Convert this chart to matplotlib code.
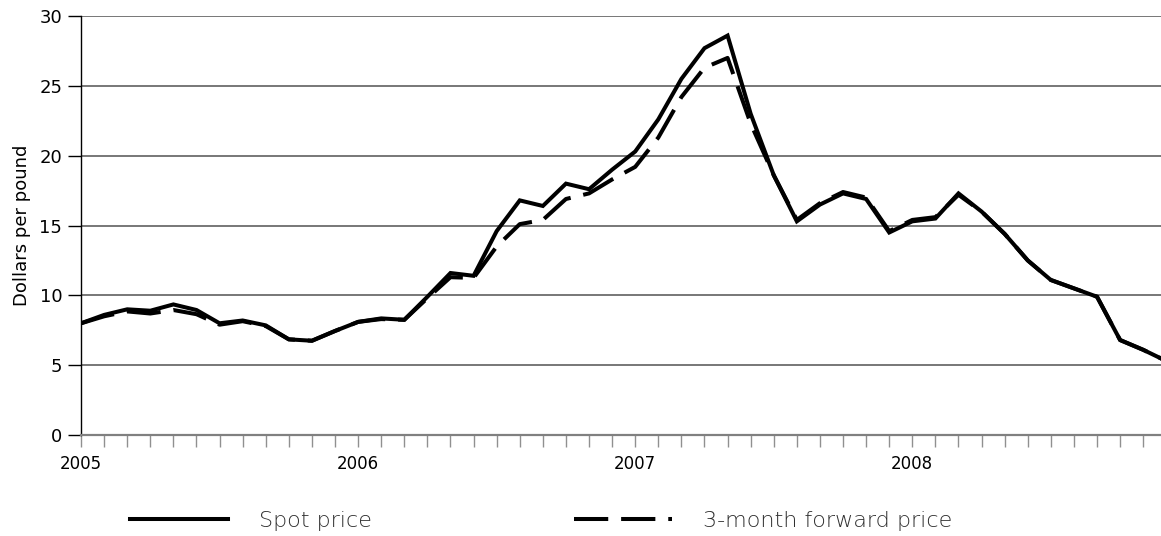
import matplotlib
matplotlib.use("Agg")
import matplotlib.pyplot as plt

# monthly prices, Jan 2005 .. Dec 2008
spot = [8.0, 8.6, 9.0, 8.9, 9.35, 8.95, 8.0, 8.2, 7.85, 6.85, 6.75, 7.45,
        8.1, 8.35, 8.25, 9.9, 11.6, 11.4, 14.6, 16.8, 16.4, 18.0, 17.6, 19.0,
        20.3, 22.6, 25.5, 27.7, 28.6, 23.0, 18.6, 15.3, 16.5, 17.3, 16.9, 14.5,
        15.3, 15.5, 17.3, 16.0, 14.4, 12.5, 11.1, 10.5, 9.9, 6.8, 6.1, 5.3]
forward = [8.0, 8.5, 8.85, 8.7, 8.95, 8.65, 7.9, 8.15, 7.8, 6.85, 6.75, 7.45,
           8.1, 8.3, 8.25, 9.8, 11.3, 11.25, 13.5, 15.1, 15.4, 16.9, 17.3, 18.3,
           19.2, 21.3, 24.2, 26.3, 27.0, 22.3, 18.6, 15.4, 16.6, 17.4, 17.0, 14.6,
           15.4, 15.6, 17.2, 16.0, 14.4, 12.5, 11.1, 10.5, 9.9, 6.8, 6.1, 5.3]
years = ["2005", "2006", "2007", "2008"]

months = list(range(len(spot)))

fig = plt.figure(figsize=(11.61, 5.36), dpi=100)
ax = fig.add_axes([0.0698, 0.1884, 0.9302, 0.7817])

# gridlines
for v in range(5, 31, 5):
    ax.axhline(v, color="#606060", lw=1.2, zorder=1)

ax.plot(months, spot, color="black", lw=2.9, solid_joinstyle="miter",
        label="Spot price", zorder=3)
ax.plot(months, forward, color="black", lw=2.9, dashes=(8.5, 3.2),
        label="3-month forward price", zorder=2)

ax.set_xlim(0, 46.77)
ax.set_ylim(0, 30)

ax.set_yticks(range(0, 31, 5))
ax.tick_params(axis="y", direction="out", length=9.5, width=1, color="black",
               labelsize=13, pad=4)
ax.set_xticks(range(0, 47))
ax.set_xticklabels([years[i // 12] if i % 12 == 0 else "" for i in range(0, 47)])
ax.tick_params(axis="x", direction="out", length=8.5, width=1, color="#909090",
               labelsize=12, pad=6)

ax.spines["top"].set_visible(False)
ax.spines["right"].set_visible(False)
ax.spines["left"].set_color("black")
ax.spines["left"].set_linewidth(1)
ax.spines["bottom"].set_color("#808080")
ax.spines["bottom"].set_linewidth(1.6)

ax.set_ylabel("Dollars per pound", fontsize=13, labelpad=6)

leg = fig.legend(loc="center left", bbox_to_anchor=(0.095, 0.028), ncol=2,
                 frameon=False, fontsize=16, handlelength=4.4,
                 handletextpad=1.4, columnspacing=9.1)
for t in leg.get_texts():
    t.set_color("#303030")
    t.set_fontweight("light")

fig.savefig("out.png", dpi=100)
